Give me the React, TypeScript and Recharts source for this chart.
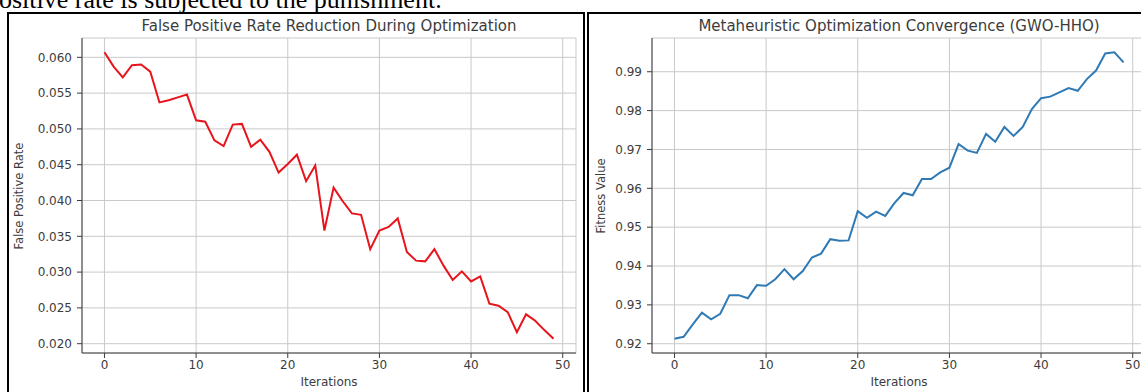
import React from 'react';
import { LineChart, Line, XAxis, YAxis, CartesianGrid } from 'recharts';

// iterations on the x axis
const ITERATIONS = [
  0, 1, 2, 3, 4, 5, 6, 7, 8, 9,
  10, 11, 12, 13, 14, 15, 16, 17, 18, 19,
  20, 21, 22, 23, 24, 25, 26, 27, 28, 29,
  30, 31, 32, 33, 34, 35, 36, 37, 38, 39,
  40, 41, 42, 43, 44, 45, 46, 47, 48, 49,
];

// false positive rate per iteration (left panel)
const FPR_VALUES = [
  0.0607, 0.0587, 0.0572, 0.0589, 0.0590, 0.0580, 0.0537, 0.0540, 0.0544, 0.0548,
  0.0512, 0.0510, 0.0484, 0.0476, 0.0506, 0.0507, 0.0475, 0.0485, 0.0468, 0.0439,
  0.0451, 0.0464, 0.0427, 0.0449, 0.0358, 0.0418, 0.0399, 0.0382, 0.0380, 0.0332,
  0.0358, 0.0363, 0.0375, 0.0328, 0.0316, 0.0315, 0.0332, 0.0309, 0.0289, 0.0301,
  0.0287, 0.0294, 0.0256, 0.0253, 0.0244, 0.0216, 0.0241, 0.0232, 0.0219, 0.0207,
];

// fitness value per iteration (right panel)
const FITNESS_VALUES = [
  0.9213, 0.9218, 0.9250, 0.9280, 0.9263, 0.9277, 0.9325, 0.9325, 0.9317, 0.9351,
  0.9349, 0.9366, 0.9392, 0.9366, 0.9387, 0.9422, 0.9432, 0.9469, 0.9465, 0.9466,
  0.9541, 0.9524, 0.9540, 0.9529, 0.9562, 0.9588, 0.9582, 0.9624, 0.9624, 0.9641,
  0.9653, 0.9714, 0.9697, 0.9691, 0.9740, 0.9720, 0.9758, 0.9735, 0.9758, 0.9804,
  0.9832, 0.9836, 0.9847, 0.9858, 0.9851, 0.9881, 0.9903, 0.9947, 0.9950, 0.9924,
];

const X_TICKS = [0, 10, 20, 30, 40, 50];
const FPR_TICKS = [0.02, 0.025, 0.03, 0.035, 0.04, 0.045, 0.05, 0.055, 0.06];
const FITNESS_TICKS = [0.92, 0.93, 0.94, 0.95, 0.96, 0.97, 0.98, 0.99];

const FONT = '"DejaVu Sans", sans-serif';
const INK = '#3c3c3c';
const SPINE = '#3a3a3a';
const GRID = '#c9c9c9';

// same 5% padding matplotlib puts around the data
function paddedDomain(values: number[]): [number, number] {
  const lo = Math.min(...values);
  const hi = Math.max(...values);
  const pad = (hi - lo) * 0.05;
  return [lo - pad, hi + pad];
}

const X_DOMAIN = paddedDomain(ITERATIONS);

const HEIGHT = 392;
const PLOT_TOP = 38;
const PLOT_BOTTOM = 353;
const Y_AXIS_W = 60;
const X_AXIS_H = 30;

interface PlotProps {
  left: number;
  width: number;
  plotLeft: number;
  plotRight: number;
  yLabelX: number;
  title: string;
  yLabel: string;
  values: number[];
  yTicks: number[];
  decimals: number;
  color: string;
}

const tickStyle = { fill: INK, fontSize: 12, fontFamily: FONT };

const Plot: React.FC<PlotProps> = ({
  left, width, plotLeft, plotRight, yLabelX, title, yLabel, values, yTicks, decimals, color,
}) => {
  const data = ITERATIONS.map((iter, i) => ({ iter, value: values[i] }));
  const yDomain = paddedDomain(values);
  const centerX = (plotLeft + plotRight) / 2;
  const centerY = (PLOT_TOP + PLOT_BOTTOM) / 2;

  return (
    <>
      <div style={{ position: 'absolute', left, top: 0 }}>
        <LineChart
          width={width}
          height={HEIGHT}
          data={data}
          margin={{
            top: PLOT_TOP,
            bottom: HEIGHT - PLOT_BOTTOM - X_AXIS_H,
            left: plotLeft - left - Y_AXIS_W,
            right: left + width - plotRight,
          }}
        >
          <CartesianGrid stroke={GRID} strokeWidth={1} />
          <XAxis
            dataKey="iter"
            type="number"
            domain={X_DOMAIN}
            ticks={X_TICKS}
            allowDataOverflow
            height={X_AXIS_H}
            tickSize={5}
            tickMargin={2.5}
            stroke={SPINE}
            tick={tickStyle}
          />
          <XAxis
            xAxisId="top"
            orientation="top"
            dataKey="iter"
            type="number"
            domain={X_DOMAIN}
            allowDataOverflow
            height={0}
            tick={false}
            tickLine={false}
            stroke={SPINE}
          />
          <YAxis
            type="number"
            domain={yDomain}
            ticks={yTicks}
            allowDataOverflow
            width={Y_AXIS_W}
            tickSize={5}
            tickMargin={5}
            stroke={SPINE}
            tick={tickStyle}
            tickFormatter={(v: number) => v.toFixed(decimals)}
          />
          <YAxis
            yAxisId="right"
            orientation="right"
            type="number"
            domain={yDomain}
            allowDataOverflow
            width={0}
            tick={false}
            tickLine={false}
            stroke={SPINE}
          />
          <Line
            type="linear"
            dataKey="value"
            stroke={color}
            strokeWidth={2}
            dot={false}
            isAnimationActive={false}
          />
        </LineChart>
      </div>

      <div style={{
        position: 'absolute', left: centerX, top: 25.8, transform: 'translate(-50%, -50%)',
        font: `15px/15px ${FONT}`, color: INK, whiteSpace: 'nowrap',
      }}>
        {title}
      </div>
      <div style={{
        position: 'absolute', left: yLabelX, top: centerY, transform: 'translate(-50%, -50%) rotate(-90deg)',
        font: `11.5px/11.5px ${FONT}`, color: INK, whiteSpace: 'nowrap',
      }}>
        {yLabel}
      </div>
      <div style={{
        position: 'absolute', left: centerX, top: 382, transform: 'translate(-50%, -50%)',
        font: `12px/12px ${FONT}`, color: INK, whiteSpace: 'nowrap',
      }}>
        Iterations
      </div>
    </>
  );
};

export default function App() {
  return (
    <div style={{
      position: 'absolute', left: 0, top: 0, width: 1141, height: 392,
      overflow: 'hidden', background: '#fff',
    }}>
      <div style={{
        position: 'absolute', left: -14, top: -12.8, font: '26px/26px "Liberation Serif", serif',
        whiteSpace: 'nowrap', color: '#000',
      }}>
        positive rate is subjected to the punishment.
      </div>

      <div style={{
        position: 'absolute', left: 7, top: 12, width: 578, height: 400,
        border: '2px solid #000', boxSizing: 'border-box',
      }} />
      <div style={{
        position: 'absolute', left: 587, top: 12, width: 600, height: 400,
        border: '2px solid #000', boxSizing: 'border-box',
      }} />

      <Plot
        left={0}
        width={585}
        plotLeft={82}
        plotRight={576}
        yLabelX={20}
        title="False Positive Rate Reduction During Optimization"
        yLabel="False Positive Rate"
        values={FPR_VALUES}
        yTicks={FPR_TICKS}
        decimals={3}
        color="#e8141c"
      />
      <Plot
        left={587}
        width={600}
        plotLeft={652}
        plotRight={1146}
        yLabelX={602}
        title="Metaheuristic Optimization Convergence (GWO-HHO)"
        yLabel="Fitness Value"
        values={FITNESS_VALUES}
        yTicks={FITNESS_TICKS}
        decimals={2}
        color="#2f7ab5"
      />
    </div>
  );
}
